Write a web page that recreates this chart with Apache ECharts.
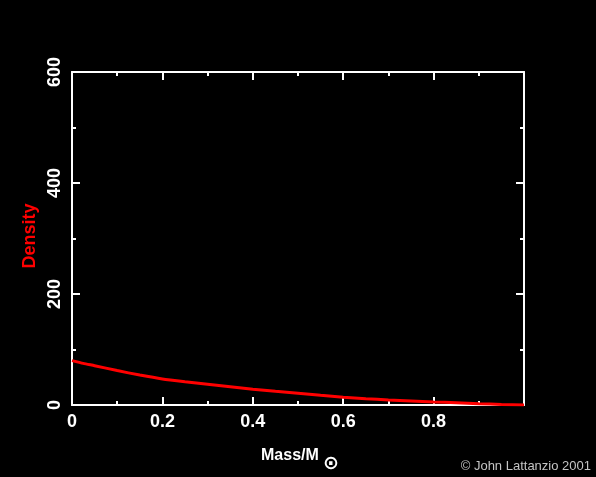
<!DOCTYPE html>
<html>
<head>
<meta charset="utf-8">
<script src="https://cdn.jsdelivr.net/npm/echarts@6/dist/echarts.min.js"></script>
<style>
html,body{margin:0;padding:0;background:#000;}
#chart{width:596px;height:477px;}
</style>
</head>
<body>
<div id="chart"></div>
<script>
// Data
var massValues = [0, 0.025, 0.05, 0.1, 0.15, 0.2, 0.25, 0.3, 0.35, 0.4, 0.45, 0.5, 0.55, 0.6, 0.65, 0.7, 0.75, 0.8, 0.85, 0.9, 0.95, 1.0];
var densityValues = [80, 75, 70.8, 62, 54, 47, 42, 37.5, 33, 28.5, 24.6, 21, 17.4, 14, 11.4, 9, 7.2, 5.5, 4, 2.4, 1.1, 0];
var xTickLabels = ['0', '0.2', '0.4', '0.6', '0.8'];
var yTickLabels = ['0', '200', '400', '600'];
var xTitle = 'Mass/M';
var xTitleSub = '\u2299';
var yTitle = 'Density';
var credit = '\u00A9 John Lattanzio 2001';

var FONT = '"Liberation Sans", Arial, sans-serif';
var seriesData = massValues.map(function (m, i) { return [m, densityValues[i]]; });

function fmtX(v) {
  var s = String(Math.round(v * 10) / 10);
  return xTickLabels.indexOf(s) >= 0 ? s : '';
}
function fmtY(v) {
  var s = String(Math.round(v));
  return yTickLabels.indexOf(s) >= 0 ? s : '';
}

var lineStyle = {color: '#fff', width: 2};
var tick = {show: true, inside: true, length: 8, lineStyle: {color: '#fff', width: 2}};
var minor = {show: true, splitNumber: 2, length: 4, lineStyle: {color: '#fff', width: 2}};

var chart = echarts.init(document.getElementById('chart'), null, {renderer: 'canvas'});
chart.setOption({
  backgroundColor: '#000',
  animation: false,
  grid: {left: 72, top: 72, width: 452, height: 333, containLabel: false},
  xAxis: [
    {type: 'value', position: 'bottom', min: 0, max: 1, interval: 0.2,
     axisLine: {show: true, onZero: false, lineStyle: lineStyle},
     axisTick: tick, minorTick: minor, splitLine: {show: false},
     axisLabel: {color: '#fff', fontSize: 18, fontWeight: 'bold', fontFamily: FONT, margin: 8, formatter: fmtX}},
    {type: 'value', position: 'top', min: 0, max: 1, interval: 0.2,
     axisLine: {show: true, onZero: false, lineStyle: lineStyle},
     axisTick: tick, minorTick: minor, splitLine: {show: false},
     axisLabel: {show: false}}
  ],
  yAxis: [
    {type: 'value', position: 'left', min: 0, max: 600, interval: 200,
     axisLine: {show: true, onZero: false, lineStyle: lineStyle},
     axisTick: tick, minorTick: minor, splitLine: {show: false},
     axisLabel: {color: '#fff', fontSize: 18, fontWeight: 'bold', fontFamily: FONT, rotate: 90, margin: 8, formatter: fmtY}},
    {type: 'value', position: 'right', min: 0, max: 600, interval: 200,
     axisLine: {show: true, onZero: false, lineStyle: lineStyle},
     axisTick: tick, minorTick: minor, splitLine: {show: false},
     axisLabel: {show: false}}
  ],
  series: [{
    type: 'line', xAxisIndex: 0, yAxisIndex: 0,
    data: seriesData, showSymbol: false, smooth: 0.2,
    lineStyle: {color: '#ff0000', width: 3}, z: 1
  }],
  graphic: [
    {type: 'text', x: 30, y: 236, rotation: Math.PI / 2,
     style: {text: yTitle, fill: '#ff0000', font: 'bold 18px ' + FONT, textAlign: 'center', textVerticalAlign: 'middle'}},
    {type: 'text', x: 261, y: 456,
     style: {text: xTitle, fill: '#fff', font: 'bold 16px ' + FONT, textAlign: 'left', textVerticalAlign: 'middle'}},
    {type: 'text', x: 331, y: 464,
     style: {text: xTitleSub, fill: '#fff', font: 'bold 19px "DejaVu Sans", sans-serif', textAlign: 'center', textVerticalAlign: 'middle'}},
    {type: 'text', x: 591, y: 466,
     style: {text: credit, fill: '#c4c4c4', font: '13px ' + FONT, textAlign: 'right', textVerticalAlign: 'middle'}}
  ]
});
</script>
</body>
</html>
